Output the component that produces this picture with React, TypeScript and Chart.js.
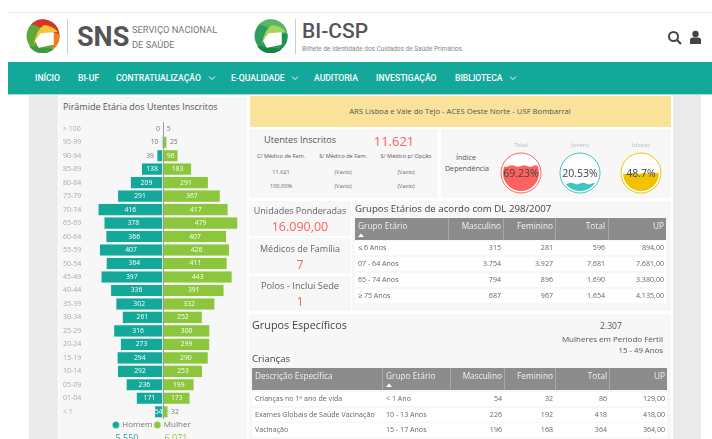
import React, { useEffect, useRef } from "react";
import { Chart, registerables } from "chart.js";

Chart.register(...registerables);

const ageLabels = ["> 100","95-99","90-94","85-89","80-84","75-79","70-74","65-69","60-64","55-59","50-54","45-49","40-44","35-39","30-34","25-29","20-24","15-19","10-14","05-09","01-04","< 1"];
const maleValues = [0,10,39,138,209,291,416,378,366,407,364,397,336,302,261,316,273,294,292,236,171,54];
const femaleValues = [5,25,96,183,291,367,417,479,407,426,411,443,391,332,252,300,299,290,253,199,173,32];

const navItems: [string, number, boolean][] = [["INÍCIO",35,false],["BI-UF",78,false],["CONTRATUALIZAÇÃO",116,true],["E-QUALIDADE",231,true],["AUDITORIA",314,false],["INVESTIGAÇÃO",376,false],["BIBLIOTECA",455,true]];

const dlHeaders = ["Grupo Etário","Masculino","Feminino","Total","UP"];
const dlRows = [
  ["≤ 6 Anos","315","281","596","894,00"],
  ["07 - 64 Anos","3.754","3.927","7.681","7.681,00"],
  ["65 - 74 Anos","794","896","1.690","3.380,00"],
  ["≥ 75 Anos","687","967","1.654","4.135,00"],
];
const kidHeaders = ["Descrição Específica","Grupo Etário","Masculino","Feminino","Total","UP"];
const kidRows = [
  ["Crianças no 1º ano de vida","< 1 Ano","54","32","86","129,00"],
  ["Exames Globais de Saúde Vacinação","10 - 13 Anos","226","192","418","418,00"],
  ["Vacinação","15 - 17 Anos","196","168","364","364,00"],
];
const gauges: [string, number, string, string, number][] = [
  ["Total",69.23,"#fd625e","69.23%",521],
  ["Jovens",20.53,"#3cc5c5","20.53%",580],
  ["Idosos",48.7,"#f2c200","48.7%",641],
];
const medicoHeads = ["C/ Médico de Fam.","S/ Médico de Fam.","S/ Médico p/ Opção"];
const medicoCounts = ["11.621","(Vazio)","(Vazio)"];
const medicoPcts = ["100,00%","(Vazio)","(Vazio)"];

const TEAL = "#14a89b";
const GREEN = "#8cc63c";
const RED = "#fd625e";
const FONT = "'Open Sans', sans-serif";

function T(p: { x: number; y: number; s: number; c?: string; a?: "l" | "c" | "r"; w?: number; f?: string; children: React.ReactNode }) {
  const a = p.a || "l";
  const tx = a === "c" ? "translate(-50%,-50%)" : a === "r" ? "translate(-100%,-50%)" : "translateY(-50%)";
  return <div style={{ position: "absolute", left: p.x, top: p.y, transform: tx, fontSize: p.s, color: p.c || "#555", fontWeight: p.w || 400, fontFamily: p.f || FONT, whiteSpace: "nowrap", lineHeight: 1 }}>{p.children}</div>;
}
function Box(p: { x: number; y: number; w: number; h: number; c: string }) {
  return <div style={{ position: "absolute", left: p.x, top: p.y, width: p.w, height: p.h, background: p.c }} />;
}
function Chevron({ x }: { x: number }) {
  return <svg style={{ position: "absolute", left: x, top: 75 }} width="8" height="6"><path d="M1 1.5 L4 4.5 L7 1.5" stroke="#fff" strokeWidth="1" fill="none" /></svg>;
}
function Logo({ x, kind }: { x: number; kind: number }) {
  const a = kind === 0 ? ["#5fa83c", "#d8342a", "#ee7f22", "#f7c436", "#3c9a3e"] : ["#2f9e5b", "#58b868", "#1f8f55", "#a4d65e", "#14834a"];
  return (
    <svg style={{ position: "absolute", left: x, top: 19 }} width="34" height="34" viewBox="0 0 34 34">
      <circle cx="17" cy="17" r="16.5" fill={a[0]} />
      <path d="M5 5.5 A16.5 16.5 0 0 1 33.4 15 L24 14 Q14 7 5 5.5 Z" fill={a[1]} />
      <path d="M33.4 15 A16.5 16.5 0 0 1 26 31 L27 14 Z" fill={a[2]} />
      <path d="M8 25 Q10 11 18 6 Q27 7 32 13 L15 15 Z" fill={a[3]} />
      <path d="M3 27 A16.5 16.5 0 0 0 28 30 L13 28 Z" fill={a[4]} />
      <path d="M15 15 L27 14 L27 25 L13 28 L10 22 Z" fill="#fff" stroke="#fff" strokeWidth="1.5" strokeLinejoin="round" />
    </svg>
  );
}
function Gauge({ g }: { g: [string, number, string, string, number] }) {
  const [name, v, col, txt, cx] = g;
  const cy = 173, r = 18;
  const level = cy + r - 2 * r * (v / 100);
  let d = `M${cx - r} ${cy + r + 2} L${cx - r} ${level}`;
  for (let i = 0; i < 6; i++) {
    const x0 = cx - r + i * 6;
    d += ` Q${x0 + 3} ${level + (i % 2 ? -1.6 : 1.6)} ${x0 + 6} ${level}`;
  }
  d += ` L${cx + r} ${cy + r + 2} Z`;
  return (
    <>
      <T x={cx} y={145} s={6} c="#bbb" a="c">{name}</T>
      <svg style={{ position: "absolute", left: 0, top: 0 }} width="712" height="439">
        <clipPath id={"g" + name}><circle cx={cx} cy={cy} r={r} /></clipPath>
        <circle cx={cx} cy={cy} r={20} fill="#fff" stroke={col} strokeWidth={1} />
        <path d={d} fill={col} clipPath={`url(#g${name})`} />
      </svg>
      <T x={cx} y={173} s={10.5} c="#444" a="c">{txt}</T>
    </>
  );
}
function Table(p: { x: number; top: number; width: number; seps: number[]; headers: string[]; rows: string[][]; textCols: number; rowYs: number[]; rights: number[]; lefts: number[]; sortCol: number }) {
  return (
    <>
      <Box x={p.x} y={p.top} w={p.width} h={22} c="#8c8c8c" />
      {p.seps.map((s) => <Box key={s} x={s} y={p.top} w={1} h={22} c="#a9a9a9" />)}
      {p.headers.map((h, i) => i < p.textCols
        ? <T key={h} x={p.lefts[i]} y={p.top + 8} s={8.3} c="#f1f1f1">{h}</T>
        : <T key={h} x={p.rights[i]} y={p.top + 8} s={8.3} c="#f1f1f1" a="r">{h}</T>)}
      <svg style={{ position: "absolute", left: p.lefts[p.sortCol], top: p.top + 15 }} width="8" height="5"><path d="M0 4 L3 0.5 L6 4 Z" fill="#fff" /></svg>
      {p.rows.map((r, ri) => (
        <React.Fragment key={ri}>
          <Box x={p.x} y={p.rowYs[ri] - 7} w={p.width} h={14} c="#ffffff" />
          {r.map((cell, i) => i < p.textCols
            ? <T key={i} x={p.lefts[i]} y={p.rowYs[ri]} s={7.1} c="#666">{cell}</T>
            : <T key={i} x={p.rights[i]} y={p.rowYs[ri]} s={7.1} c="#666" a="r">{cell}</T>)}
        </React.Fragment>
      ))}
    </>
  );
}

const barLabels = {
  id: "barLabels",
  afterDatasetsDraw(chart: any) {
    const ctx = chart.ctx;
    ctx.save();
    ctx.font = `6.8px ${FONT}`;
    ctx.textBaseline = "middle";
    chart.data.datasets.forEach((ds: any, di: number) => {
      const meta = chart.getDatasetMeta(di);
      meta.data.forEach((el: any, i: number) => {
        const txt = String(Math.abs(ds.data[i]));
        const len = Math.abs(el.x - el.base);
        const tw = ctx.measureText(txt).width;
        ctx.textAlign = "center";
        if (len > tw) {
          ctx.fillStyle = "#ffffff";
          ctx.fillText(txt, (el.x + el.base) / 2, el.y);
        } else {
          ctx.fillStyle = "#777777";
          const dir = di === 0 ? -1 : 1;
          ctx.fillText(txt, el.x + dir * (tw / 2 + 3), el.y);
        }
      });
    });
    ctx.restore();
  },
};

export default function App() {
  const ref = useRef<HTMLCanvasElement | null>(null);
  useEffect(() => {
    const chart = new Chart(ref.current as HTMLCanvasElement, {
      type: "bar",
      data: {
        labels: ageLabels,
        datasets: [
          { label: "Homem", data: maleValues.map((v) => -v), backgroundColor: TEAL, borderColor: "#c9e8e4", borderWidth: 0.5, barPercentage: 0.9, categoryPercentage: 1 },
          { label: "Mulher", data: femaleValues, backgroundColor: GREEN, borderColor: "#dcecc4", borderWidth: 0.5, barPercentage: 0.9, categoryPercentage: 1 },
        ],
      },
      plugins: [barLabels],
      options: {
        indexAxis: "y",
        animation: false,
        responsive: false,
        layout: { padding: { top: 7, right: 6, bottom: 0, left: 4 } },
        scales: {
          x: {
            stacked: true, min: -500, max: 500,
            ticks: { display: false },
            border: { display: false },
            grid: { drawTicks: false, color: (c: any) => (c.tick && c.tick.value === 0 ? "#999" : "transparent") },
          },
          y: {
            stacked: true,
            afterFit: (s: any) => { s.width = 22; },
            ticks: { color: "#aaa", font: { size: 7, family: FONT }, autoSkip: false, padding: 2, crossAlign: "far" },
            border: { display: false },
            grid: { display: false },
          },
        },
        plugins: {
          tooltip: { enabled: false },
          legend: {
            position: "bottom",
            labels: { usePointStyle: true, pointStyle: "circle", boxWidth: 5, boxHeight: 5, padding: 2.5, color: "#777", font: { size: 8, family: FONT } },
          },
        },
      },
    } as any);
    return () => chart.destroy();
  }, []);

  return (
    <div style={{ position: "fixed", left: 0, top: 0, width: 712, height: 439, overflow: "hidden", background: "#fff", fontFamily: FONT }}>
      <Box x={8} y={12} w={704} h={1} c="#e9e9e9" />
      <Logo x={26} kind={0} />
      <Box x={67} y={19} w={1} h={35} c="#ccc" />
      <T x={77} y={37} s={27} c="#555" w={700} f="Roboto">SNS</T>
      <T x={132} y={30} s={9.3} c="#777" f="Roboto">SERVIÇO NACIONAL</T>
      <T x={132} y={45} s={9.3} c="#777" f="Roboto">DE SAÚDE</T>
      <Logo x={254} kind={1} />
      <Box x={295} y={19} w={1} h={35} c="#ccc" />
      <T x={302} y={31} s={21} c="#555" w={500} f="Roboto">BI-CSP</T>
      <T x={302} y={49} s={6.5} c="#888" f="Roboto">Bilhete de Identidade dos Cuidados de Saúde Primários</T>
      <svg style={{ position: "absolute", left: 667, top: 30 }} width="38" height="16">
        <circle cx="6.5" cy="6.5" r="4.5" stroke="#444" strokeWidth="2" fill="none" />
        <path d="M10 10 L14 14" stroke="#444" strokeWidth="2.2" />
        <circle cx="28.5" cy="4" r="3.2" fill="#444" />
        <path d="M23 14 L23 10 Q23 7.5 26 7.5 L31 7.5 Q34 7.5 34 10 L34 14 Z" fill="#444" />
      </svg>

      <Box x={8} y={62} w={704} h={32} c={TEAL} />
      <Box x={8} y={94} w={704} h={1} c="#a5dcd6" />
      {navItems.map(([t, x]) => <T key={t} x={x} y={78} s={8.6} c="#fff" w={500} f="Roboto">{t}</T>)}
      <Chevron x={208} /><Chevron x={291} /><Chevron x={509} />

      <Box x={29} y={95} w={29} h={344} c="#ebebeb" />
      <Box x={673} y={95} w={28} h={344} c="#ebebeb" />
      <Box x={59} y={97} w={188} h={342} c="#f7f7f7" />
      <T x={63} y={106} s={9} c="#555">Pirâmide Etária dos Utentes Inscritos</T>
      <canvas ref={ref} width={188} height={324} style={{ position: "absolute", left: 59, top: 115, width: 188, height: 324 }} />
      <T x={127} y={437} s={9} c={TEAL} a="c">5.550</T>
      <T x={176} y={437} s={9} c={GREEN} a="c">6.071</T>

      <Box x={250} y={96} w={421} h={31} c="#fae29b" />
      <T x={460} y={112} s={7.7} c="#555" a="c">ARS Lisboa e Vale do Tejo - ACES Oeste Norte - USF Bombarral</T>

      <Box x={249} y={129} w={189} h={69} c="#f7f7f7" />
      <T x={264} y={140} s={9.2} c="#555">Utentes Inscritos</T>
      <T x={394} y={141} s={13} c={RED} a="c">11.621</T>
      {medicoHeads.map((h, i) => <T key={h} x={[281, 343, 406][i]} y={157} s={5.6} c="#555" a="c">{h}</T>)}
      {medicoCounts.map((h, i) => <T key={i} x={[281, 343, 406][i]} y={173} s={5.6} c="#666" a="c">{h}</T>)}
      {medicoPcts.map((h, i) => <T key={i} x={[281, 343, 406][i]} y={187} s={5.6} c="#666" a="c">{h}</T>)}

      <Box x={441} y={129} w={230} h={69} c="#f7f7f7" />
      <T x={466} y={158} s={7.2} c="#555" a="c">Índice</T>
      <T x={467} y={169} s={7.2} c="#555" a="c">Dependência</T>
      {gauges.map((g) => <Gauge key={g[0]} g={g} />)}

      <Box x={249} y={201} w={102} h={35} c="#f7f7f7" />
      <Box x={249} y={238} w={102} h={35} c="#f7f7f7" />
      <Box x={249} y={276} w={102} h={35} c="#f7f7f7" />
      <T x={300} y={210} s={9} c="#666" a="c">Unidades Ponderadas</T>
      <T x={300} y={227} s={12.5} c={RED} a="c">16.090,00</T>
      <T x={300} y={248} s={9} c="#666" a="c">Médicos de Família</T>
      <T x={300} y={265} s={12.5} c={RED} a="c">7</T>
      <T x={300} y={286} s={9.3} c="#666" a="c">Polos - Inclui Sede</T>
      <T x={300} y={302} s={12.5} c={RED} a="c">1</T>

      <Box x={352} y={201} w={319} h={110} c="#f7f7f7" />
      <T x={355} y={209} s={9.7} c="#444">Grupos Etários de acordo com DL 298/2007</T>
      <Table x={355} top={218} width={311} seps={[448, 503, 555, 608]} headers={dlHeaders} rows={dlRows} textCols={1} rowYs={[248, 264, 280, 296]} lefts={[358]} rights={[0, 501, 553, 605, 664]} sortCol={0} />

      <Box x={249} y={314} w={422} h={125} c="#f7f7f7" />
      <T x={252} y={325} s={10.8} c="#444">Grupos Específicos</T>
      <T x={611} y={326} s={8.6} c="#555" a="c">2.307</T>
      <T x={663} y={339} s={8} c="#555" a="r">Mulheres em Período Fértil</T>
      <T x={663} y={351} s={7.8} c="#555" a="r">15 - 49 Anos</T>
      <T x={252} y={359} s={9.6} c="#444">Crianças</T>
      <Table x={252} top={368} width={415} seps={[382, 450, 504, 555, 609]} headers={kidHeaders} rows={kidRows} textCols={2} rowYs={[399, 415, 430]} lefts={[255, 386]} rights={[0, 0, 502, 553, 607, 665]} sortCol={1} />
    </div>
  );
}
